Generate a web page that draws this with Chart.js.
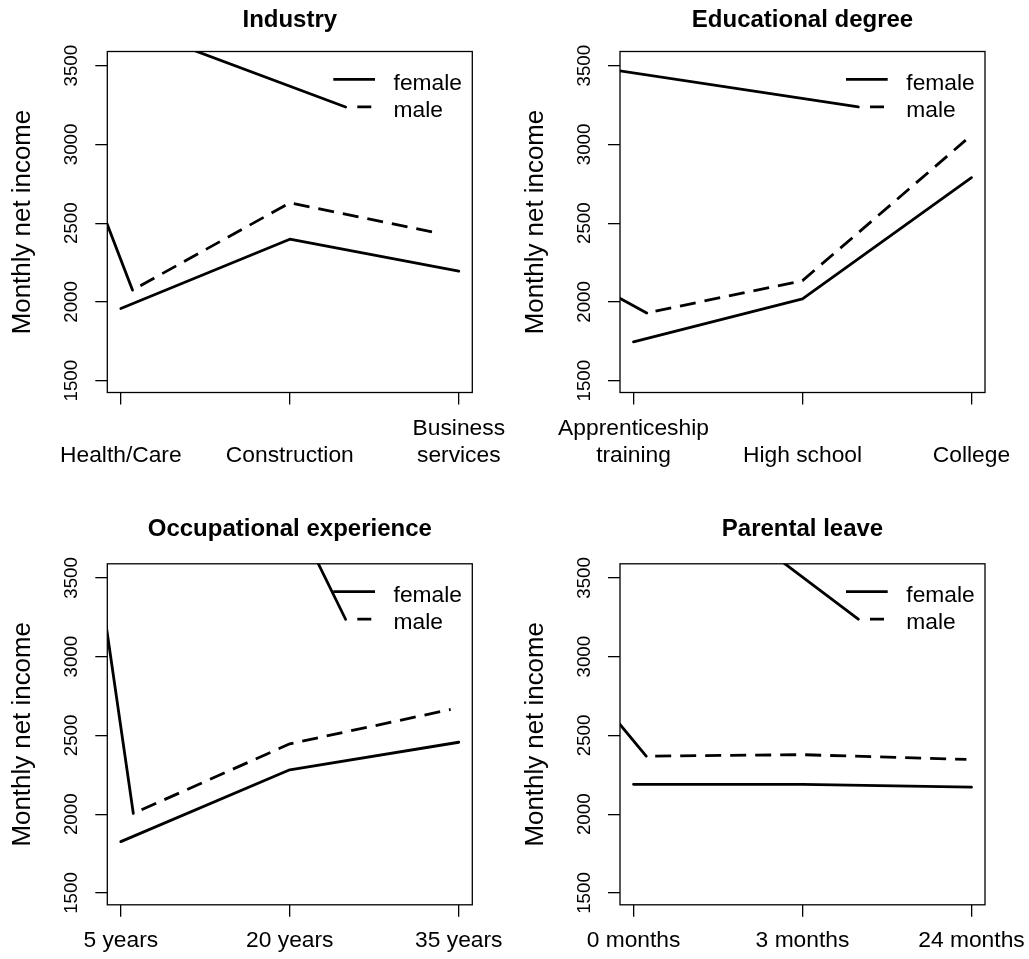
<!DOCTYPE html>
<html><head><meta charset="utf-8">
<script src="https://cdn.jsdelivr.net/npm/chart.js@4.4.1/dist/chart.umd.min.js"></script>
<style>
html,body{margin:0;padding:0;background:#fff;}
body{width:1029px;height:959px;position:relative;overflow:hidden;}
canvas{position:absolute;}
</style></head><body>
<canvas id="p1"></canvas><canvas id="p2"></canvas><canvas id="p3"></canvas><canvas id="p4"></canvas>
<script>
const FONT = '"Liberation Sans", Arial, Helvetica, sans-serif';

// ---------- shared axes ----------
const X_TICKS = [1, 2, 3];
const Y_TICKS = [1500, 2000, 2500, 3000, 3500];
const Y_LABEL = 'Monthly net income';
const SERIES_NAMES = ['female', 'male'];

// ---------- Industry ----------
const INDUSTRY_TITLE = 'Industry';
const INDUSTRY_CATEGORIES = [['', 'Health/Care'], ['', 'Construction'], ['Business', 'services']];
const INDUSTRY_FEMALE = [1958, 2398, 2195];
const INDUSTRY_MALE_X = [1.069, 2, 2.859];
const INDUSTRY_MALE = [2075, 2629, 2441];
const INDUSTRY_STRAY_X = [2.33, 0.373, 1.069];
const INDUSTRY_STRAY_Y = [3238, 4021, 2075];

// ---------- Educational degree ----------
const EDU_TITLE = 'Educational degree';
const EDU_CATEGORIES = [['Apprenticeship', 'training'], ['', 'High school'], ['', 'College']];
const EDU_FEMALE = [1746, 2020, 2789];
const EDU_MALE_X = [1.078, 2, 2.966];
const EDU_MALE = [1930, 2135, 3027];
const EDU_STRAY_X = [2.33, -2.52, 1.078];
const EDU_STRAY_Y = [3238, 4026, 1930];

// ---------- Occupational experience ----------
const OCC_TITLE = 'Occupational experience';
const OCC_CATEGORIES = ['5 years', '20 years', '35 years'];
const OCC_FEMALE = [1826, 2282, 2457];
const OCC_MALE_X = [1.074, 2, 2.952];
const OCC_MALE = [2005, 2447, 2665];
const OCC_STRAY_X = [2.33, 0.314, 1.074];
const OCC_STRAY_Y = [3238, 7645, 2005];

// ---------- Parental leave ----------
const PAR_TITLE = 'Parental leave';
const PAR_CATEGORIES = ['0 months', '3 months', '24 months'];
const PAR_FEMALE = [2190, 2190, 2172];
const PAR_MALE_X = [1.075, 2, 2.97];
const PAR_MALE = [2369, 2378, 2348];
const PAR_STRAY_X = [2.33, -2.81, 1.075];
const PAR_STRAY_Y = [3238, 7404, 2369];

const X_MIN = 0.92, X_MAX = 3.08, Y_MIN = 1425, Y_MAX = 3590;

const zip = (xs, ys) => xs.map((x, i) => ({x, y: ys[i]}));

const boxPlugin = {
  id: 'rBox',
  afterDatasetsDraw(chart) {
    const {ctx, chartArea: a} = chart;
    ctx.save();
    ctx.strokeStyle = '#000';
    ctx.lineWidth = 1.3;
    ctx.strokeRect(a.left, a.top, a.right - a.left, a.bottom - a.top);
    ctx.restore();
  }
};

const legendPlugin = {
  id: 'rLegend',
  afterDatasetsDraw(chart) {
    const {ctx, chartArea: a} = chart;
    const x0 = a.right - 139, x1 = a.right - 97.3;
    const yF = a.top + 27.8, yM = a.top + 55.3;
    ctx.save();
    ctx.strokeStyle = '#000';
    ctx.lineWidth = 2.8;
    ctx.lineCap = 'butt';
    ctx.beginPath(); ctx.moveTo(x0, yF); ctx.lineTo(x1, yF); ctx.stroke();
    ctx.setLineDash([0, 24, 14, 100]);
    ctx.beginPath(); ctx.moveTo(x0, yM); ctx.lineTo(x1, yM); ctx.stroke();
    ctx.setLineDash([]);
    ctx.fillStyle = '#000';
    ctx.font = '22.8px ' + FONT;
    ctx.textAlign = 'left';
    ctx.textBaseline = 'alphabetic';
    ctx.fillText(SERIES_NAMES[0], a.right - 78.7, yF + 10.3);
    ctx.fillText(SERIES_NAMES[1], a.right - 78.7, yM + 10.3);
    ctx.restore();
  }
};

function makePanel(id, p) {
  const cv = document.getElementById(id);
  cv.width = p.w; cv.height = p.h;
  cv.style.left = p.ox + 'px'; cv.style.top = p.oy + 'px';
  cv.style.width = p.w + 'px'; cv.style.height = p.h + 'px';
  const BOX_W = 365, BOX_H = 341;
  new Chart(cv, {
    type: 'line',
    data: {
      datasets: [
        {label: SERIES_NAMES[0], data: zip(X_TICKS, p.female), borderColor: '#000', borderWidth: 2.8,
         borderCapStyle: 'round', borderJoinStyle: 'round', pointRadius: 0, tension: 0, clip: 0},
        {label: SERIES_NAMES[1], data: zip(p.maleX, p.male), borderColor: '#000', borderWidth: 2.8,
         borderDash: [16, 9], borderDashOffset: 16, borderCapStyle: 'butt', borderJoinStyle: 'round',
         pointRadius: 0, tension: 0, clip: 0},
        {label: 'stray', data: zip(p.strayX, p.strayY), borderColor: '#000', borderWidth: 2.8,
         borderCapStyle: 'round', borderJoinStyle: 'round', pointRadius: 0, tension: 0, clip: 0}
      ]
    },
    options: {
      responsive: false, animation: false, devicePixelRatio: 1, events: [],
      layout: {padding: {left: 0, top: 0, bottom: 0, right: p.w - p.boxLeft - BOX_W}},
      plugins: {
        legend: {display: false}, tooltip: {enabled: false},
        title: {display: true, text: p.title, fullSize: false, color: '#000',
          font: {family: FONT, size: 24, weight: 'bold', lineHeight: 1.2},
          padding: {top: p.titleMid - 14.4, bottom: p.boxTop - p.titleMid - 14.4}}
      },
      scales: {
        x: {
          type: 'linear', min: X_MIN, max: X_MAX,
          afterBuildTicks: s => { s.ticks = X_TICKS.map(v => ({value: v})); },
          afterFit: s => { s.height = p.h - p.boxTop - BOX_H; s.paddingLeft = 0; s.paddingRight = 0; },
          grid: {display: true, drawOnChartArea: false, drawTicks: true, tickLength: 12, color: '#000', lineWidth: 1.3},
          border: {display: false},
          ticks: {autoSkip: false, maxRotation: 0, minRotation: 0, padding: 10.5, color: '#000',
            font: {family: FONT, size: 22.8, lineHeight: 1.184},
            callback: (v, i) => p.cats[i]}
        },
        y: {
          min: Y_MIN, max: Y_MAX,
          afterBuildTicks: s => { s.ticks = Y_TICKS.map(v => ({value: v})); },
          afterFit: s => { s.width = p.boxLeft; s.paddingTop = 0; s.paddingBottom = 0; },
          grid: {display: true, drawOnChartArea: false, drawTicks: true, tickLength: 12, color: '#000', lineWidth: 1.3},
          border: {display: false},
          ticks: {autoSkip: false, minRotation: 90, maxRotation: 90, crossAlign: 'center', padding: 2.5,
            color: '#000', font: {family: FONT, size: 18.7},
            callback: v => String(v)},
          title: {display: true, text: Y_LABEL, color: '#000',
            font: {family: FONT, size: 25.9, lineHeight: 1.2},
            padding: {top: p.boxLeft - 84.6 - 15.54, bottom: 0}}
        }
      }
    },
    plugins: [boxPlugin, legendPlugin]
  });
}

makePanel('p1', {ox: 0, oy: 0, w: 560, h: 512, boxLeft: 107.3, boxTop: 51.5, titleMid: 20,
  title: INDUSTRY_TITLE, cats: INDUSTRY_CATEGORIES, female: INDUSTRY_FEMALE,
  maleX: INDUSTRY_MALE_X, male: INDUSTRY_MALE, strayX: INDUSTRY_STRAY_X, strayY: INDUSTRY_STRAY_Y});
makePanel('p2', {ox: 512, oy: 0, w: 517, h: 512, boxLeft: 108, boxTop: 51.5, titleMid: 20,
  title: EDU_TITLE, cats: EDU_CATEGORIES, female: EDU_FEMALE,
  maleX: EDU_MALE_X, male: EDU_MALE, strayX: EDU_STRAY_X, strayY: EDU_STRAY_Y});
makePanel('p3', {ox: 0, oy: 512, w: 560, h: 447, boxLeft: 107.3, boxTop: 51.8, titleMid: 17.8,
  title: OCC_TITLE, cats: OCC_CATEGORIES, female: OCC_FEMALE,
  maleX: OCC_MALE_X, male: OCC_MALE, strayX: OCC_STRAY_X, strayY: OCC_STRAY_Y});
makePanel('p4', {ox: 512, oy: 512, w: 517, h: 447, boxLeft: 108, boxTop: 51.8, titleMid: 17.8,
  title: PAR_TITLE, cats: PAR_CATEGORIES, female: PAR_FEMALE,
  maleX: PAR_MALE_X, male: PAR_MALE, strayX: PAR_STRAY_X, strayY: PAR_STRAY_Y});
</script>
</body></html>
